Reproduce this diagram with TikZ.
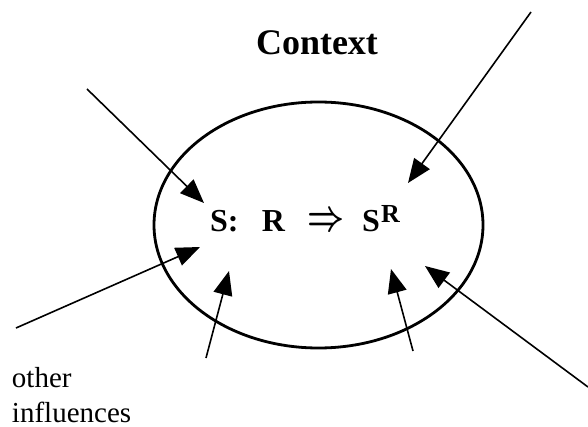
\documentclass[tikz,border=0pt]{standalone}
\usepackage{fontspec}
\setmainfont{Liberation Serif}
\usetikzlibrary{arrows.meta,shapes.geometric}
\tikzset{
  infl/.style={line width=1.6pt,-{Triangle[length=24pt,width=19pt]}},
  ctxell/.style={ellipse,draw,line width=2.8pt,minimum width=329pt,minimum height=246pt,inner sep=0pt},
  lbl/.style={inner sep=0pt,outer sep=0pt}
}
\begin{document}
\begin{tikzpicture}[x=1pt,y=-1pt]
\useasboundingbox (0,0) rectangle (588,427);
\node[ctxell] (ell) at (318.5,225) {};
\node[lbl,anchor=base,font=\fontsize{36}{36}\selectfont\bfseries] (title) at (317,55) {Context};
\node[lbl,anchor=base west,font=\fontsize{32}{32}\selectfont\bfseries] (rule) at (210,232)
  {\makebox[52pt][l]{S:}\makebox[45pt][l]{R}\makebox[55pt][l]{\raisebox{1pt}{\resizebox{37pt}{17pt}{\boldmath$\Rightarrow$}}}\makebox[19pt][l]{S}\raisebox{9pt}{\fontsize{26}{26}\selectfont R}};
\node[lbl,anchor=base west,align=left,font=\fontsize{29}{35}\selectfont] (other) at (12,422) {other\\influences};
% start points
\coordinate (s1) at (87,89);
\coordinate (s2) at (531,12);
\coordinate (s3) at (16,328);
\coordinate (s4) at (206,358);
\coordinate (s5) at (413,351);
\coordinate (s6) at (588,387);
% tips
\coordinate (t1) at (204,203);
\coordinate (t2) at (408,183);
\coordinate (t3) at (200,247);
\coordinate (t4) at (229,271);
\coordinate (t5) at (391,269);
\coordinate (t6) at (425,266);
\draw[infl] (s1) -- (t1);
\draw[infl] (s2) -- (t2);
\draw[infl] (s3) -- (t3);
\draw[infl] (s4) -- (t4);
\draw[infl] (s5) -- (t5);
\draw[infl] (s6) -- (t6);
\end{tikzpicture}
\end{document}
